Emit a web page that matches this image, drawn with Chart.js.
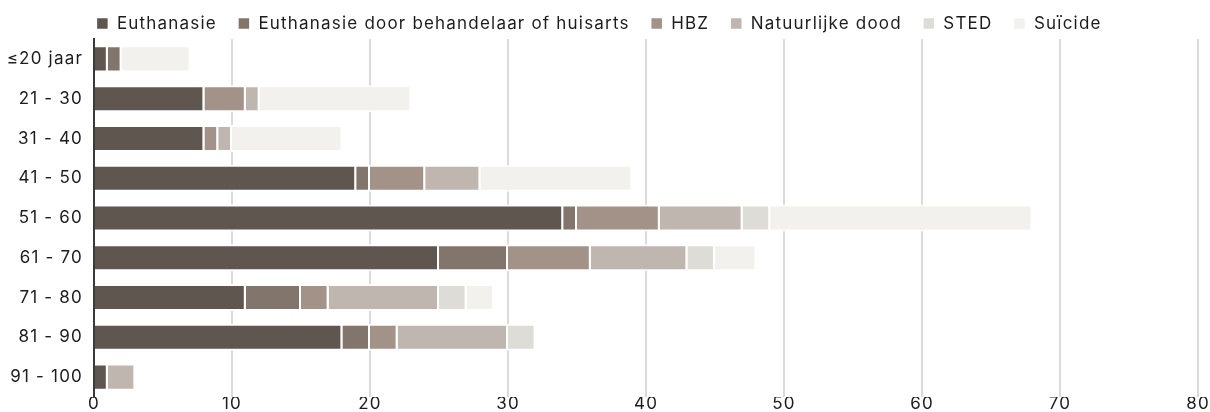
<!DOCTYPE html>
<html>
<head>
<meta charset="utf-8">
<script src="https://cdn.jsdelivr.net/npm/chart.js@4"></script>
<style>
  html, body { margin: 0; padding: 0; background: #fff; }
  #wrap { width: 1210px; height: 412px; position: relative; }
</style>
</head>
<body>
<div id="wrap"><canvas id="chart"></canvas></div>
<script>
const ageGroups = ['≤20 jaar', '21 - 30', '31 - 40', '41 - 50', '51 - 60', '61 - 70', '71 - 80', '81 - 90', '91 - 100'];

const euthanasie        = [1, 8, 8, 19, 34, 25, 11, 18, 1];
const euthanasieArts    = [1, 0, 0, 1, 1, 5, 4, 2, 0];
const hbz               = [0, 3, 1, 4, 6, 6, 2, 2, 0];
const natuurlijkeDood   = [0, 1, 1, 4, 6, 7, 8, 8, 2];
const sted              = [0, 0, 0, 0, 2, 2, 2, 2, 0];
const suicide           = [5, 11, 8, 11, 19, 3, 2, 0, 0];

const seriesNames  = ['Euthanasie', 'Euthanasie door behandelaar of huisarts', 'HBZ', 'Natuurlijke dood', 'STED', 'Suïcide'];
const seriesValues = [euthanasie, euthanasieArts, hbz, natuurlijkeDood, sted, suicide];
const seriesColors = ['#5f5650', '#82766c', '#a39287', '#bfb6b0', '#dddcd7', '#f2f1ed'];

const xTicks = { min: 0, max: 80, step: 10 };

const datasets = seriesNames.map((name, i) => ({
  label: name,
  data: seriesValues[i],
  backgroundColor: seriesColors[i],
  borderColor: '#ffffff',
  borderWidth: { left: 0, right: 2, top: 2, bottom: 2 },
  borderSkipped: false,
  categoryPercentage: 0.68,
  barPercentage: 1
}));

// the text face is a bit wide, so spread the letters a little
const spacing = {
  id: 'spacing',
  beforeInit(chart) {
    chart.ctx.letterSpacing = '1.2px';
    const fit = chart.legend.fit;
    chart.legend.fit = function () { fit.call(this); this.height = 45; };
  },
  beforeUpdate(chart) { chart.ctx.letterSpacing = '1.2px'; },
  beforeLayout(chart) { chart.ctx.letterSpacing = '1.2px'; },
  beforeDraw(chart) { chart.ctx.letterSpacing = '1.2px'; }
};

Chart.defaults.font.family = 'Inter, "Open Sans", sans-serif';
Chart.defaults.font.size = 17;
Chart.defaults.color = '#1c1c1c';

new Chart(document.getElementById('chart').getContext('2d'), {
  type: 'bar',
  data: { labels: ageGroups, datasets },
  plugins: [spacing],
  options: {
    indexAxis: 'y',
    responsive: true,
    maintainAspectRatio: false,
    animation: false,
    layout: { padding: { left: 0, right: 12, top: -6, bottom: 0.6 } },
    plugins: {
      legend: {
        position: 'top',
        align: 'center',
        labels: {
          boxWidth: 12,
          boxHeight: 12,
          padding: 21,
          color: '#1c1c1c'
        }
      },
      tooltip: { enabled: false }
    },
    scales: {
      x: {
        stacked: true,
        min: xTicks.min,
        max: xTicks.max,
        ticks: { stepSize: xTicks.step, padding: -3, color: '#1c1c1c', maxRotation: 0 },
        grid: { color: '#dadada', lineWidth: 2, drawTicks: false },
        border: { display: false }
      },
      y: {
        stacked: true,
        ticks: { padding: 11, color: '#1c1c1c' },
        grid: { display: false, drawTicks: false },
        border: { display: true, color: '#3a3a3a', width: 2 },
        afterFit(scale) {
          scale.width = 94;
          scale.paddingTop = 0;
          scale.paddingBottom = 0;
        }
      }
    }
  }
});
</script>
</body>
</html>
